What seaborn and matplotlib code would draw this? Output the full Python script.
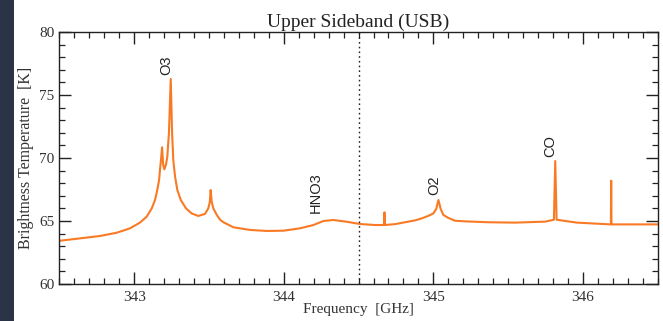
import numpy as np
import pandas as pd
import matplotlib
matplotlib.use("Agg")
import matplotlib.pyplot as plt
from matplotlib.patches import Rectangle
from matplotlib.ticker import MultipleLocator
import seaborn as sns

# Spectrum (frequency in GHz, brightness temperature in K)
freq = [342.500, 342.637, 342.771, 342.883, 342.972, 343.038, 343.083, 343.117,
        343.139, 343.154, 343.166, 343.172, 343.180, 343.186, 343.193, 343.201,
        343.212, 343.221, 343.232, 343.244, 343.253, 343.261, 343.273, 343.288,
        343.311, 343.346, 343.384, 343.428, 343.473, 343.495, 343.505, 343.511,
        343.518, 343.529, 343.552, 343.574, 343.596, 343.663, 343.774, 343.886,
        343.997, 344.109, 344.198, 344.265, 344.331, 344.421, 344.510, 344.611,
        344.671, 344.673, 344.675, 344.744, 344.811, 344.878, 344.923, 344.965,
        345.000, 345.019, 345.034, 345.049, 345.067, 345.099, 345.145, 345.212,
        345.368, 345.547, 345.748, 345.806, 345.815, 345.824, 345.960, 346.187,
        346.189, 346.191, 346.500]
temp = [63.43, 63.62, 63.81, 64.07, 64.42, 64.87, 65.34, 66.00,
        66.67, 67.46, 68.25, 69.05, 70.00, 70.85, 69.50, 69.10,
        69.45, 70.10, 72.00, 76.27, 72.00, 69.84, 68.52, 67.46,
        66.67, 66.00, 65.60, 65.40, 65.56, 66.00, 66.50, 67.46,
        66.50, 66.00, 65.48, 65.10, 64.90, 64.50, 64.29, 64.21,
        64.23, 64.42, 64.68, 65.00, 65.08, 64.94, 64.76, 64.68,
        64.68, 65.69, 64.68, 64.75, 64.90, 65.05, 65.21, 65.40,
        65.60, 65.95, 66.67, 65.95, 65.48, 65.25, 65.02, 64.97,
        64.90, 64.87, 64.95, 65.10, 69.76, 65.10, 64.87, 64.73,
        68.20, 64.73, 64.73]

# Line identifications
labels = ["O3", "HNO3", "O2", "CO"]
label_freq = [343.215, 344.216, 345.005, 345.784]
label_temp = [76.6, 65.63, 67.06, 70.08]

sideband_edge = 344.5
title = "Upper Sideband (USB)"
xticks = [343, 344, 345, 346]
yticks = [60, 65, 70, 75, 80]

sns.set_theme(style="white")
serif = ["Liberation Serif", "DejaVu Serif"]
plt.rcParams["font.family"] = serif

fig = plt.figure(figsize=(6.63, 3.21), dpi=100)
ax = fig.add_axes([0.0897, 0.1153, 0.9023, 0.785])

# dark strip at the left edge of the screenshot
fig.patches.append(Rectangle((0, 0), 14 / 663, 1, transform=fig.transFigure,
                             facecolor="#2b3346", edgecolor="none", zorder=0))

df = pd.DataFrame({"freq": freq, "temp": temp})
sns.lineplot(data=df, x="freq", y="temp", ax=ax, color="#f97a24",
             linewidth=1.5, estimator=None, sort=False)

ax.axvline(sideband_edge, color="#222222", linestyle=(0, (1.2, 2.2)), linewidth=1.0)

for lab, fx, ty in zip(labels, label_freq, label_temp):
    ax.text(fx, ty, lab, rotation=90, ha="center", va="bottom",
            fontsize=10.5, family=["Liberation Sans", "DejaVu Sans"], color="#222222")

ax.set_xlim(342.5, 346.5)
ax.set_ylim(60, 80)
ax.set_xticks(xticks)
ax.set_yticks(yticks)
ax.xaxis.set_minor_locator(MultipleLocator(0.1))
ax.yaxis.set_minor_locator(MultipleLocator(1))
ax.tick_params(which="both", direction="in", top=True, right=True,
               bottom=True, left=True, colors="#222222", labelcolor="#333333",
               labelsize=11)
ax.tick_params(which="major", length=8.5, width=1.0)
ax.tick_params(which="minor", length=4.5, width=0.9)
ax.tick_params(axis="x", which="major", pad=5)

for s in ax.spines.values():
    s.set_color("#222222")
    s.set_linewidth(1.0)

ax.set_xlabel("Frequency  [GHz]", fontsize=11, color="#333333", labelpad=-1)
ax.set_ylabel("Brightness Temperature  [K]", fontsize=11.5, color="#333333", labelpad=4)
ax.set_title(title, fontsize=14, color="#222222", pad=4)

fig.savefig("out.png", dpi=100)
